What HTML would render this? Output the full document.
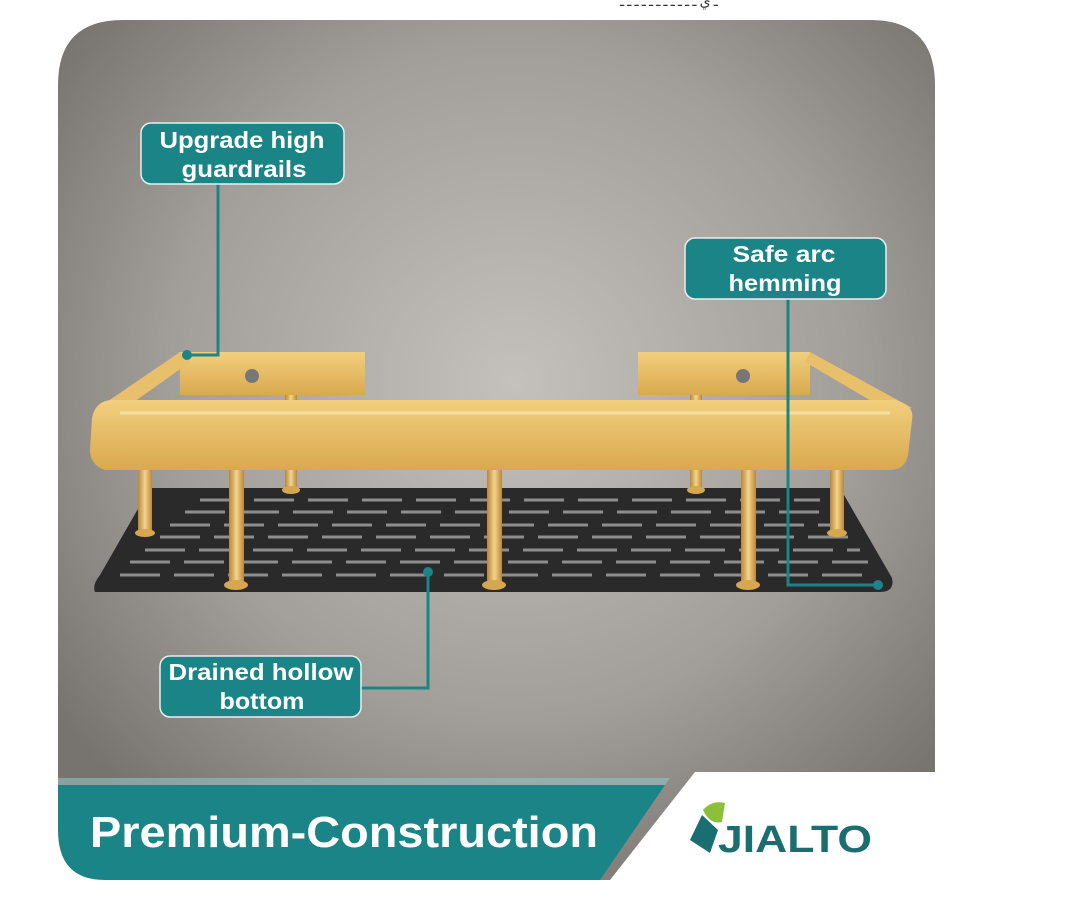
<!DOCTYPE html>
<html><head><meta charset="utf-8"><style>
html,body{margin:0;padding:0;background:#fff;width:1080px;height:913px;overflow:hidden}
</style></head><body>
<svg width="1080" height="913" viewBox="0 0 1080 913" xmlns="http://www.w3.org/2000/svg" font-family="Liberation Sans, sans-serif">
<defs>
<radialGradient id="bg" cx="0.52" cy="0.42" r="0.65">
<stop offset="0" stop-color="#c4c0bc"/><stop offset="0.6" stop-color="#a29e9a"/><stop offset="1" stop-color="#77736f"/>
</radialGradient>
<linearGradient id="gold" x1="0" y1="0" x2="0" y2="1">
<stop offset="0" stop-color="#f2cf7e"/><stop offset="1" stop-color="#d9a94e"/>
</linearGradient>
<linearGradient id="leg" x1="0" y1="0" x2="1" y2="0">
<stop offset="0" stop-color="#b8863a"/><stop offset="0.5" stop-color="#f3d48c"/><stop offset="1" stop-color="#b8863a"/>
</linearGradient>
<clipPath id="panel"><path d="M58,85 Q58,20 123,20 L870,20 Q935,20 935,85 L935,880 L58,880 Z"/></clipPath>
</defs>
<text x="620" y="6" font-size="14" fill="#333" font-family="Noto Sans CJK SC, sans-serif">ـ ي ـ ـ ـ ـ ـ ـ ـ ـ ـ ـ ـ</text>
<g clip-path="url(#panel)">
<rect x="58" y="20" width="877" height="860" fill="url(#bg)"/>
<path d="M58,785 L665,785 L600,880 L58,880 Z" fill="#1b8487"/>
<path d="M695,772 L935,772 L935,880 L610,880 Z" fill="#fff"/>
<path d="M58,785 L665,785 L670,778 L58,778 Z" fill="#8fc4c2" opacity="0.6"/>
</g>
<path d="M58,830 L58,880 L105,880 Q58,880 58,830 Z" fill="#fff"/>
<!-- base plate -->
<path d="M150,488 L840,488 L892,578 Q895,592 880,592 L95,592 Q92,585 100,575 Z" fill="#2a2a2a"/>
<g stroke="#8e8e8e" stroke-width="3" stroke-dasharray="40 14">
<line x1="200" y1="500" x2="820" y2="500"/><line x1="185" y1="512" x2="830" y2="512"/>
<line x1="170" y1="525" x2="840" y2="525"/><line x1="160" y1="537" x2="850" y2="537"/>
<line x1="145" y1="550" x2="860" y2="550"/><line x1="130" y1="562" x2="868" y2="562"/>
<line x1="120" y1="575" x2="875" y2="575"/>
</g>
<!-- legs -->
<g fill="url(#leg)">
<rect x="285" y="395" width="12" height="95"/><rect x="690" y="395" width="12" height="95"/>
<rect x="138" y="465" width="14" height="70"/><rect x="830" y="465" width="14" height="70"/>
<rect x="229" y="465" width="15" height="120"/><rect x="487" y="465" width="15" height="120"/><rect x="741" y="465" width="15" height="120"/>
</g>
<g fill="#d6a750"><ellipse cx="236" cy="585" rx="12" ry="5"/><ellipse cx="494" cy="585" rx="12" ry="5"/><ellipse cx="748" cy="585" rx="12" ry="5"/><ellipse cx="145" cy="533" rx="10" ry="4"/><ellipse cx="837" cy="533" rx="10" ry="4"/><ellipse cx="291" cy="490" rx="9" ry="4"/><ellipse cx="696" cy="490" rx="9" ry="4"/></g>
<!-- frame -->
<path d="M180,352 L365,352 L365,395 L180,395 Z" fill="url(#gold)"/>
<path d="M638,352 L810,352 L810,395 L638,395 Z" fill="url(#gold)"/>
<path d="M180,352 L95,410 L120,412 L190,362 Z" fill="#e8bf6a"/>
<path d="M810,352 L912,408 L890,412 L805,362 Z" fill="#e8bf6a"/>
<path d="M110,400 L895,400 Q915,405 912,420 L908,455 Q905,470 890,470 L105,470 Q90,465 90,450 L92,418 Q95,402 110,400 Z" fill="url(#gold)"/>
<path d="M120,413 L890,413" stroke="#f7dfa0" stroke-width="3"/>
<circle cx="252" cy="376" r="7" fill="#777"/><circle cx="743" cy="376" r="7" fill="#777"/>
<!-- callouts -->
<g stroke="#1b8487" stroke-width="3" fill="none">
<polyline points="218,182 218,355 187,355"/>
<polyline points="788,298 788,585 878,585"/>
<polyline points="428,572 428,688 360,688"/>
</g>
<g fill="#1b8487"><circle cx="187" cy="355" r="5"/><circle cx="878" cy="585" r="5"/><circle cx="428" cy="572" r="5"/></g>
<g fill="#1b8487" stroke="#e8f0ee" stroke-width="1.5">
<rect x="141" y="123" width="203" height="61" rx="10"/>
<rect x="685" y="238" width="201" height="61" rx="10"/>
<rect x="160" y="656" width="201" height="61" rx="10"/>
</g>
<g fill="#fff" font-weight="bold" font-size="23" text-anchor="middle">
<text x="242" y="148" textLength="165" lengthAdjust="spacingAndGlyphs">Upgrade high</text><text x="244" y="177" textLength="125" lengthAdjust="spacingAndGlyphs">guardrails</text>
<text x="784" y="262" textLength="103" lengthAdjust="spacingAndGlyphs">Safe arc</text><text x="785" y="291" textLength="113" lengthAdjust="spacingAndGlyphs">hemming</text>
<text x="261" y="680" textLength="185" lengthAdjust="spacingAndGlyphs">Drained hollow</text><text x="262" y="709" textLength="85" lengthAdjust="spacingAndGlyphs">bottom</text>
</g>
<text x="90" y="847" fill="#fff" font-weight="bold" font-size="44" textLength="508" lengthAdjust="spacingAndGlyphs">Premium-Construction</text>
<!-- logo -->
<path d="M702,815 L690,840 L710,853 L718,830 Z" fill="#1b6e70"/>
<path d="M703,810 Q712,800 725,803 L722,822 Q710,825 703,810 Z" fill="#8cbf3a"/>
<text x="718" y="852" fill="#1b6e70" font-weight="bold" font-size="38" textLength="154" lengthAdjust="spacingAndGlyphs">JIALTO</text>
</svg>
</body></html>
